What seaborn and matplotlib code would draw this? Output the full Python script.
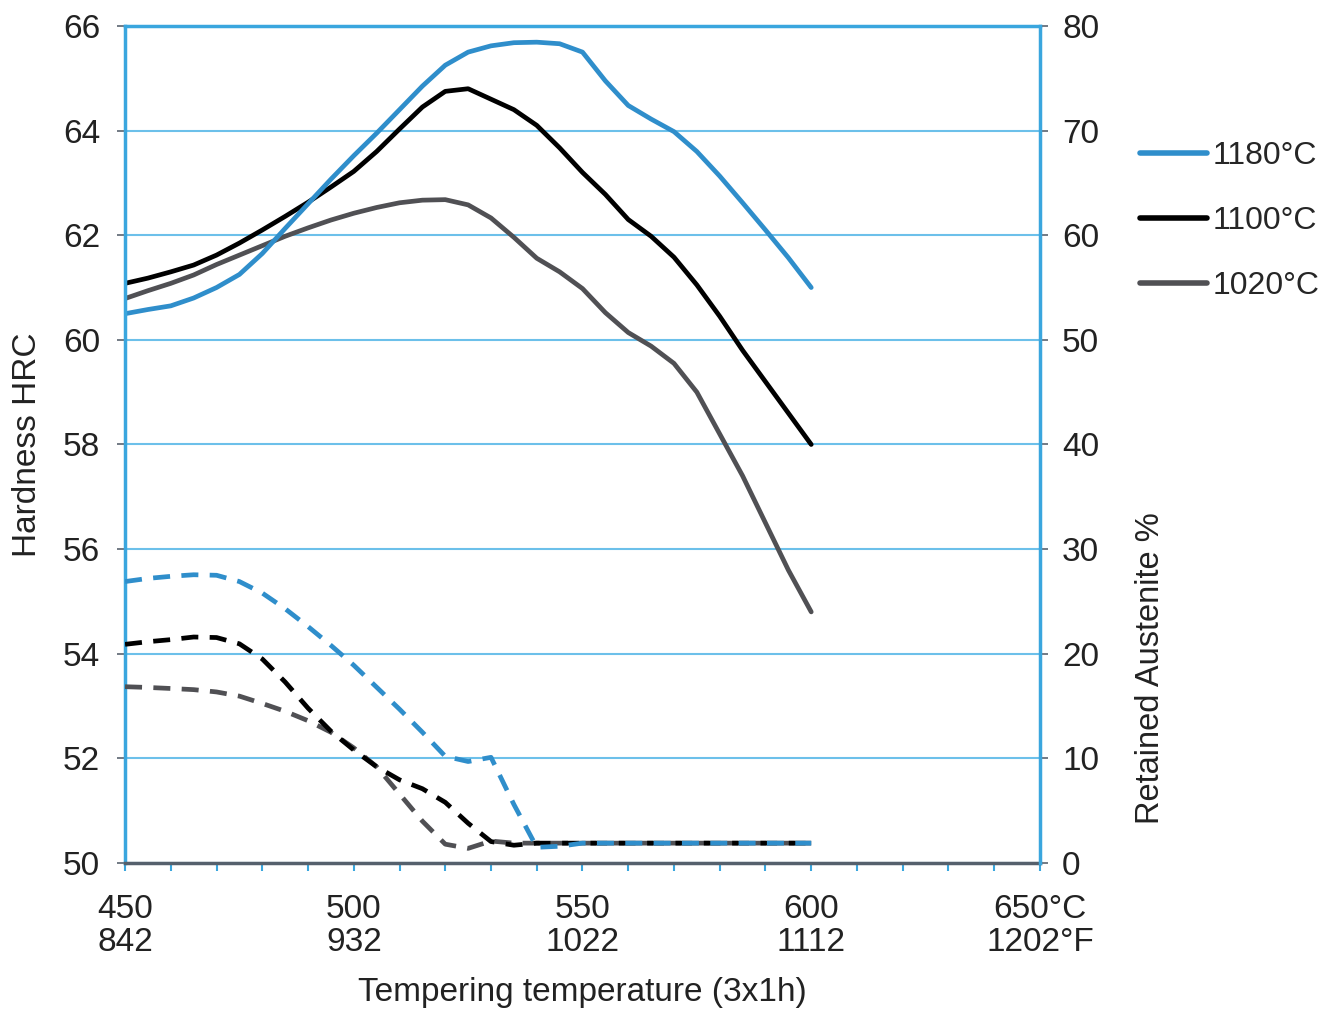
import pandas as pd
import numpy as np
import matplotlib
matplotlib.use("Agg")
import matplotlib.pyplot as plt
import seaborn as sns

# tempering temperature (deg C), readings every 5 degrees
temp = list(range(450, 605, 5))

# hardness HRC (solid lines, left axis)
hrc_1180 = [60.50, 60.58, 60.65, 60.80, 61.00, 61.25, 61.65, 62.13, 62.60, 63.07, 63.52,
            63.95, 64.40, 64.85, 65.25, 65.50, 65.62, 65.68, 65.69, 65.66, 65.50, 64.95,
            64.48, 64.22, 63.98, 63.60, 63.13, 62.62, 62.10, 61.57, 61.00]
hrc_1100 = [61.08, 61.18, 61.30, 61.43, 61.62, 61.85, 62.10, 62.36, 62.63, 62.92, 63.22,
            63.60, 64.03, 64.45, 64.75, 64.80, 64.60, 64.40, 64.10, 63.67, 63.20, 62.78,
            62.30, 61.98, 61.58, 61.05, 60.45, 59.80, 59.20, 58.60, 58.00]
hrc_1020 = [60.79, 60.94, 61.08, 61.24, 61.44, 61.62, 61.80, 61.98, 62.14, 62.29, 62.42,
            62.53, 62.62, 62.67, 62.68, 62.58, 62.33, 61.96, 61.56, 61.30, 60.98, 60.52,
            60.14, 59.88, 59.55, 59.00, 58.20, 57.40, 56.50, 55.60, 54.80]

# retained austenite % (dashed lines, right axis)
ra_1180 = [26.9, 27.2, 27.4, 27.55, 27.5, 26.9, 25.8, 24.3, 22.6, 20.8, 18.9,
           16.8, 14.7, 12.5, 10.2, 9.7, 10.1, 5.6, 1.5, 1.6, 1.9, 1.9,
           1.9, 1.9, 1.9, 1.9, 1.9, 1.9, 1.9, 1.9, 1.9]
ra_1100 = [20.9, 21.15, 21.35, 21.6, 21.55, 20.95, 19.5, 17.3, 14.8, 12.6, 10.8,
           9.2, 7.95, 7.1, 5.8, 3.8, 2.05, 1.7, 1.9, 1.9, 1.9, 1.9,
           1.9, 1.9, 1.9, 1.9, 1.9, 1.9, 1.9, 1.9, 1.9]
ra_1020 = [16.85, 16.78, 16.68, 16.57, 16.35, 15.95, 15.25, 14.5, 13.6, 12.5, 11.0,
           9.2, 6.6, 4.0, 1.8, 1.4, 2.1, 1.9, 1.9, 1.9, 1.9, 1.9,
           1.9, 1.9, 1.9, 1.9, 1.9, 1.9, 1.9, 1.9, 1.9]

series = ["1180°C", "1100°C", "1020°C"]
colors = {"1180°C": "#2f8ecb", "1100°C": "#000000", "1020°C": "#505054"}

x_labels = ["450\n842", "500\n932", "550\n1022", "600\n1112", "650°C\n1202°F"]

hard = pd.DataFrame({"temp": temp * 3,
                     "value": hrc_1180 + hrc_1100 + hrc_1020,
                     "series": np.repeat(series, len(temp))})
ra = pd.DataFrame({"temp": temp * 3,
                   "value": ra_1180 + ra_1100 + ra_1020,
                   "series": np.repeat(series, len(temp))})

sns.set_theme(style="white")
plt.rcParams['font.family'] = ['Liberation Sans', 'DejaVu Sans']

grid_blue = "#6cc0ea"
spine_blue = "#3aa6de"
tick_col = "#5a6470"

fig = plt.figure(figsize=(13.36, 10.14), dpi=100)
ax = fig.add_axes([0.0936, 0.1489, 0.6848, 0.8255])
ax2 = ax.twinx()

sns.lineplot(data=hard, x="temp", y="value", hue="series", hue_order=series[::-1],
             palette=colors, linewidth=3.4, legend=False, ax=ax)
sns.lineplot(data=ra, x="temp", y="value", hue="series", hue_order=series[::-1],
             palette=colors, linewidth=3.4, legend=False, ax=ax2)
for a in (ax, ax2):
    for ln in a.get_lines():
        ln.set_solid_joinstyle('round')
        ln.set_dash_joinstyle('round')
for ln in ax2.get_lines():
    ln.set_dashes((3.6, 2.4))

ax.set_xlim(450, 650)
ax.set_ylim(50, 66)
ax2.set_ylim(0, 80)
ax.set_yticks(range(50, 67, 2))
ax2.set_yticks(range(0, 81, 10))
ax.set_xticks(range(450, 651, 50))
ax.set_xticks(range(450, 651, 10), minor=True)
ax.set_xticklabels(x_labels, linespacing=1.12)

ax.yaxis.grid(True, color=grid_blue, linewidth=1.5)
ax.xaxis.grid(False)
ax.set_axisbelow(True)

for a in (ax, ax2):
    for s in a.spines.values():
        s.set_visible(False)
ax.spines['left'].set_visible(True)
ax.spines['left'].set_color(spine_blue)
ax.spines['left'].set_linewidth(2.5)
ax2.spines['right'].set_visible(True)
ax2.spines['right'].set_color(spine_blue)
ax2.spines['right'].set_linewidth(2.5)
ax.spines['top'].set_visible(True)
ax.spines['top'].set_color(spine_blue)
ax.spines['top'].set_linewidth(2.5)
ax.spines['bottom'].set_visible(True)
ax.spines['bottom'].set_color("#55606c")
ax.spines['bottom'].set_linewidth(2.5)

ax.tick_params(axis='x', which='both', direction='out', length=6, width=1.5,
               color=spine_blue, labelsize=24, pad=16, bottom=True)
ax.tick_params(axis='y', direction='out', length=6, width=1.2, color=tick_col,
               labelsize=24, pad=12, left=True)
ax2.tick_params(axis='y', direction='out', length=6, width=1.2, color=tick_col,
                labelsize=24, pad=10, right=True)
for lab in ax.get_xticklabels() + ax.get_yticklabels() + ax2.get_yticklabels():
    lab.set_color("#222222")

ax.set_xlabel("Tempering temperature (3x1h)", fontsize=24, color="#222222", labelpad=13)
ax.set_ylabel("Hardness HRC", fontsize=24, color="#222222", labelpad=14)
ax2.set_ylabel("Retained Austenite %", fontsize=23.5, color="#222222")
ax2.yaxis.set_label_coords(1.104, 0.233)

handles = [plt.Line2D([], [], color=colors[s], linewidth=4) for s in series]
fig.legend(handles, series, loc='upper left', bbox_to_anchor=(0.853, 0.861),
           frameon=False, fontsize=23, handlelength=2.1, handletextpad=0.2,
           labelspacing=1.1, borderpad=0, borderaxespad=0)

fig.savefig("out.png", dpi=100)
